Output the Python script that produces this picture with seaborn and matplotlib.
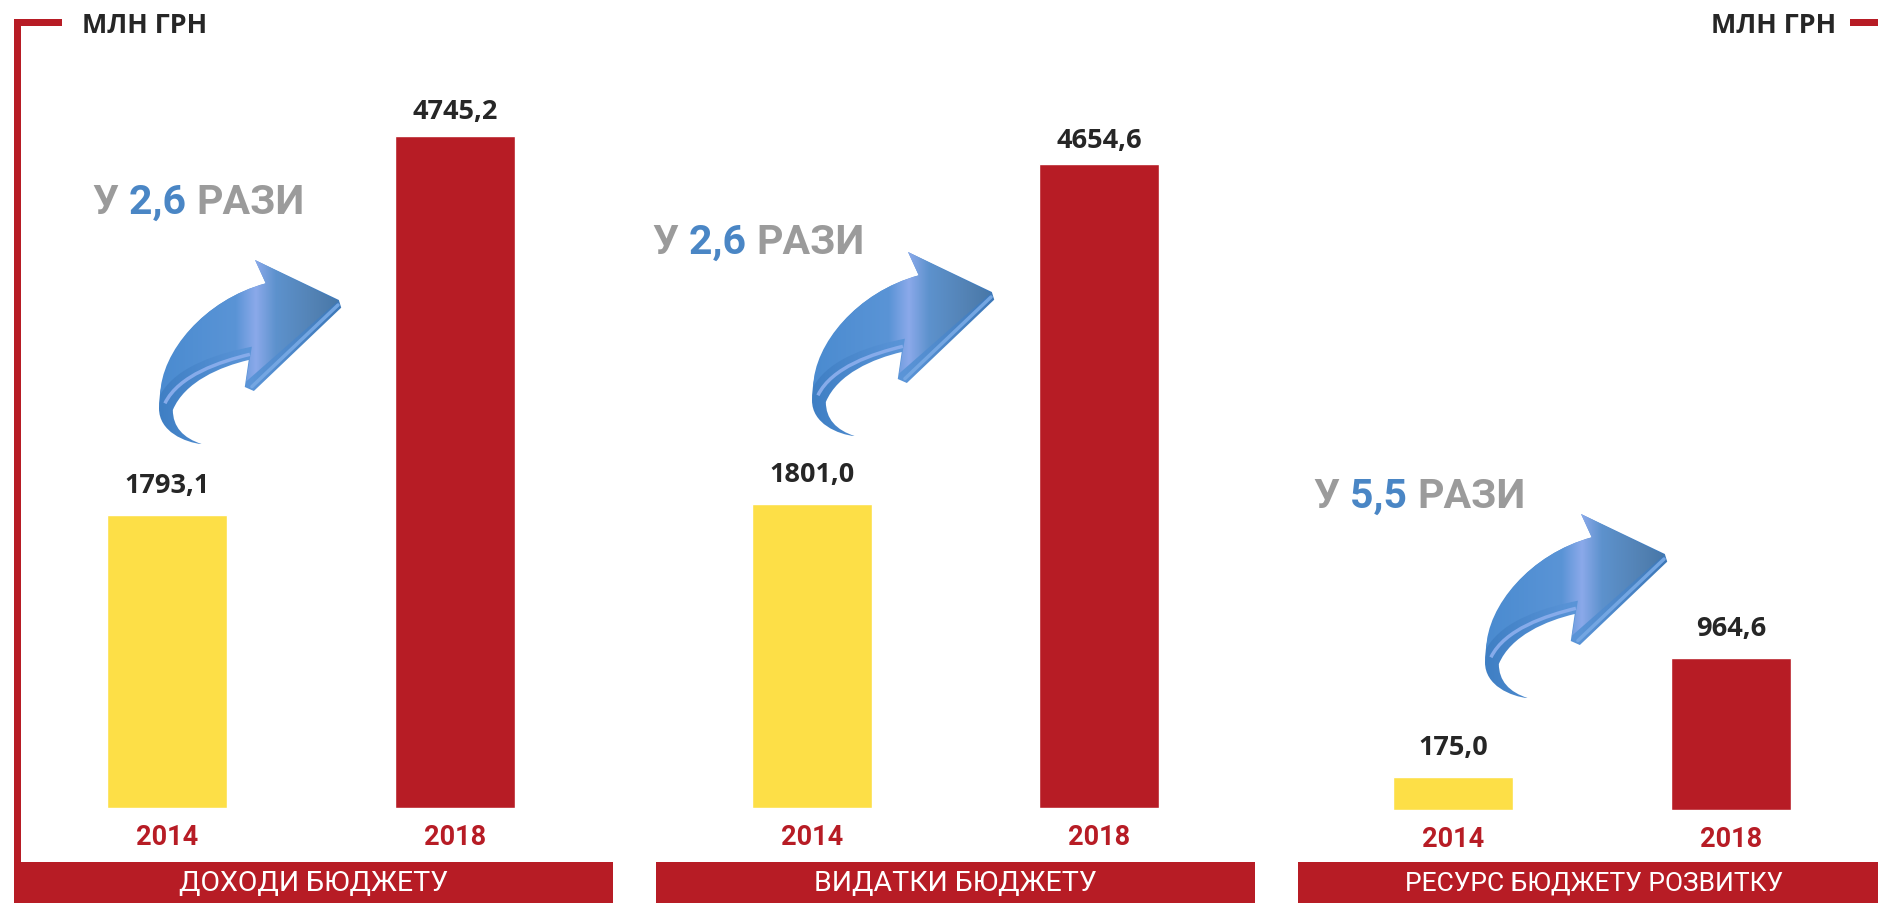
"""
budget bars 2014 vs 2018, three panels with growth arrows
"""
import numpy as np
import matplotlib
matplotlib.use("Agg")
import matplotlib.pyplot as plt
from matplotlib.colors import LinearSegmentedColormap
from matplotlib.patches import PathPatch, Rectangle
from matplotlib.path import Path
import seaborn as sns

""" DATA """
years = ["2014", "2018"]
panel_names = ["ДОХОДИ БЮДЖЕТУ", "ВИДАТКИ БЮДЖЕТУ", "РЕСУРС БЮДЖЕТУ РОЗВИТКУ"]
# numbers printed above the bars
printed_income = ["1793,1", "4745,2"]
printed_spending = ["1801,0", "4654,6"]
printed_resource = ["175,0", "964,6"]
# the yellow bars in the picture are taller than their printed numbers,
# so heights are read off the bars, relative to the red bar of each panel
bars_income = [2072, 4745.2]
bars_spending = [2200, 4654.6]
bars_resource = [209, 964.6]
ratios = ["2,6", "2,6", "5,5"]

""" STYLE """
W, H = 1878, 904
RED = "#b71c25"
YELLOW = "#fddf47"
BLUE = "#4a86c5"
GREY = "#9b9b9b"
DARK = "#262626"
NARROW = ["Roboto", "DejaVu Sans"]
BOLD = ["Open Sans", "DejaVu Sans"]

sns.set_theme(style="white")
fig = plt.figure(figsize=(W / 100, H / 100), dpi=100, facecolor="white")

# pixel-space layer for frame, banners and arrows
ov = fig.add_axes([0, 0, 1, 1], zorder=0)
ov.set_xlim(0, W)
ov.set_ylim(H, 0)
ov.axis("off")


def px_axes(left, right, top, bottom):
    ax = fig.add_axes([left / W, 1 - bottom / H, (right - left) / W, (bottom - top) / H], zorder=1)
    ax.patch.set_visible(False)
    return ax


def arrow(x0, y0):
    # outline, in zoomed crop units
    def pts(seq):
        return [(x0 + (x - 405) / 2.53, y0 + (y - 785) / 3) for x, y in seq]

    L, C4, C3 = Path.LINETO, Path.CURVE4, Path.CURVE3
    body = Path(pts([(648, 785), (860, 905), (866, 928), (645, 1178), (622, 1166), (632, 1085),
                     (560, 1105), (470, 1150), (440, 1235), (440, 1310), (515, 1338),
                     (470, 1332), (405, 1300), (405, 1230),
                     (405, 1060), (520, 905), (675, 855), (648, 785)]),
                [Path.MOVETO, L, L, L, L, L, C4, C4, C4, C3, C3, C4, C4, C4, C4, C4, C4, L])
    front = Path(pts([(648, 785), (858, 908), (625, 1150), (640, 1045),
                      (560, 1065), (450, 1100), (408, 1190),
                      (410, 1060), (520, 905), (675, 855), (648, 785)]),
                 [Path.MOVETO, L, L, L, C4, C4, C4, C4, C4, C4, L])
    x1, x2 = x0, x0 + 461 / 2.53
    y1, y2 = y0, y0 + 553 / 3
    side_cm = LinearSegmentedColormap.from_list("side", ["#3f7fc4", "#5b95d8", "#3d78b8"])
    face_cm = LinearSegmentedColormap.from_list(
        "face", [(0, "#4a8bd0"), (0.42, "#5a94d6"), (0.53, "#8ba9ea"), (0.64, "#5d92cd"),
                 (0.85, "#5382b4"), (1, "#4676a6")])
    grad = np.linspace(0, 1, 256).reshape(1, -1)
    im = ov.imshow(grad, cmap=side_cm, extent=(x1, x2, y2, y1), aspect="auto", zorder=2)
    im.set_clip_path(body, transform=ov.transData)
    im = ov.imshow(grad, cmap=face_cm, extent=(x1, x2, y2, y1), aspect="auto", zorder=3)
    im.set_clip_path(front, transform=ov.transData)
    # light streaks on the side faces
    streak = Path(pts([(635, 1068), (560, 1090), (455, 1130), (420, 1215)]),
                  [Path.MOVETO, C4, C4, C4])
    ov.add_patch(PathPatch(streak, fill=False, ec="#86abea", lw=2.5, zorder=4))
    edge = pts([(858, 920), (640, 1165)])
    ov.plot(*zip(*edge), color="#74a6e2", lw=2.5, zorder=4)
    ov.set_xlim(0, W)
    ov.set_ylim(H, 0)


def ratio_text(x, y, ratio):
    # three colours on one line, each piece starts where the last one ended
    renderer = fig.canvas.get_renderer()
    for piece, col in [("У ", GREY), (ratio + " ", BLUE), ("РАЗИ", GREY)]:
        t = ov.text(x, y, piece.replace(" ", "\u00a0"), color=col, fontsize=29.5, fontweight="bold",
                    family=NARROW, va="center", ha="left")
        x += t.get_window_extent(renderer).width


# frame and banners
ov.add_patch(Rectangle((14, 20), 7, 850, color=RED, lw=0))
ov.add_patch(Rectangle((14, 20), 48, 7, color=RED, lw=0))
ov.add_patch(Rectangle((1850, 20), 28, 7, color=RED, lw=0))
ov.text(82, 26, "МЛН ГРН", color=DARK, fontsize=19.4, fontweight="bold", family=BOLD, va="center")
ov.text(1836, 26, "МЛН ГРН", color=DARK, fontsize=19.4, fontweight="bold", family=BOLD,
        va="center", ha="right")

banners = [(14, 613, 314, 20.5), (656, 1255, 955, 20.5), (1298, 1878, 1594, 19)]
for (b0, b1, tx, fs), name in zip(banners, panel_names):
    ov.add_patch(Rectangle((b0, 863), b1 - b0, H - 863, color=RED, lw=0))
    ov.text(tx, 884, name, color="white", fontsize=fs, family=NARROW, ha="center", va="center")

""" BARS """
panels = [
    (bars_income, printed_income, (23, 599, 40, 809), 5431, 0.415, [12, 8.5]),
    (bars_spending, printed_spending, (668, 1243, 40, 809), 5561, 0.417, [12, 8.5]),
    (bars_resource, printed_resource, (1314, 1870, 40, 811), 4886, 0.431, [12, 12]),
]
for heights, printed, box, ymax, bar_w, pads in panels:
    ax = px_axes(*box)
    sns.barplot(x=years, y=heights, hue=years, palette=[YELLOW, RED], legend=False,
                width=bar_w, dodge=False, saturation=1, ax=ax)
    for container, label, pad in zip(ax.containers, printed, pads):
        ax.bar_label(container, labels=[label], padding=pad, color=DARK, fontsize=19.5,
                     fontweight="bold", family=BOLD)
    ax.set_xlim(-0.5, 1.5)
    ax.set_ylim(0, ymax)
    ax.set_yticks([])
    ax.set_ylabel("")
    ax.tick_params(axis="x", length=0, pad=10.5, labelcolor=RED)
    for lab in ax.get_xticklabels():
        lab.set_fontsize(19.5)
        lab.set_fontweight("bold")
        lab.set_family(NARROW)
    sns.despine(ax=ax, left=True, bottom=True)

""" ANNOTATION """
for (tx, ty), (ax0, ay0), ratio in zip([(93, 203), (653, 243), (1314, 497)],
                                       [(159, 261), (812, 253), (1485, 515)], ratios):
    ratio_text(tx, ty, ratio)
    arrow(ax0, ay0)

plt.savefig("out.png", dpi=100, facecolor="white")
